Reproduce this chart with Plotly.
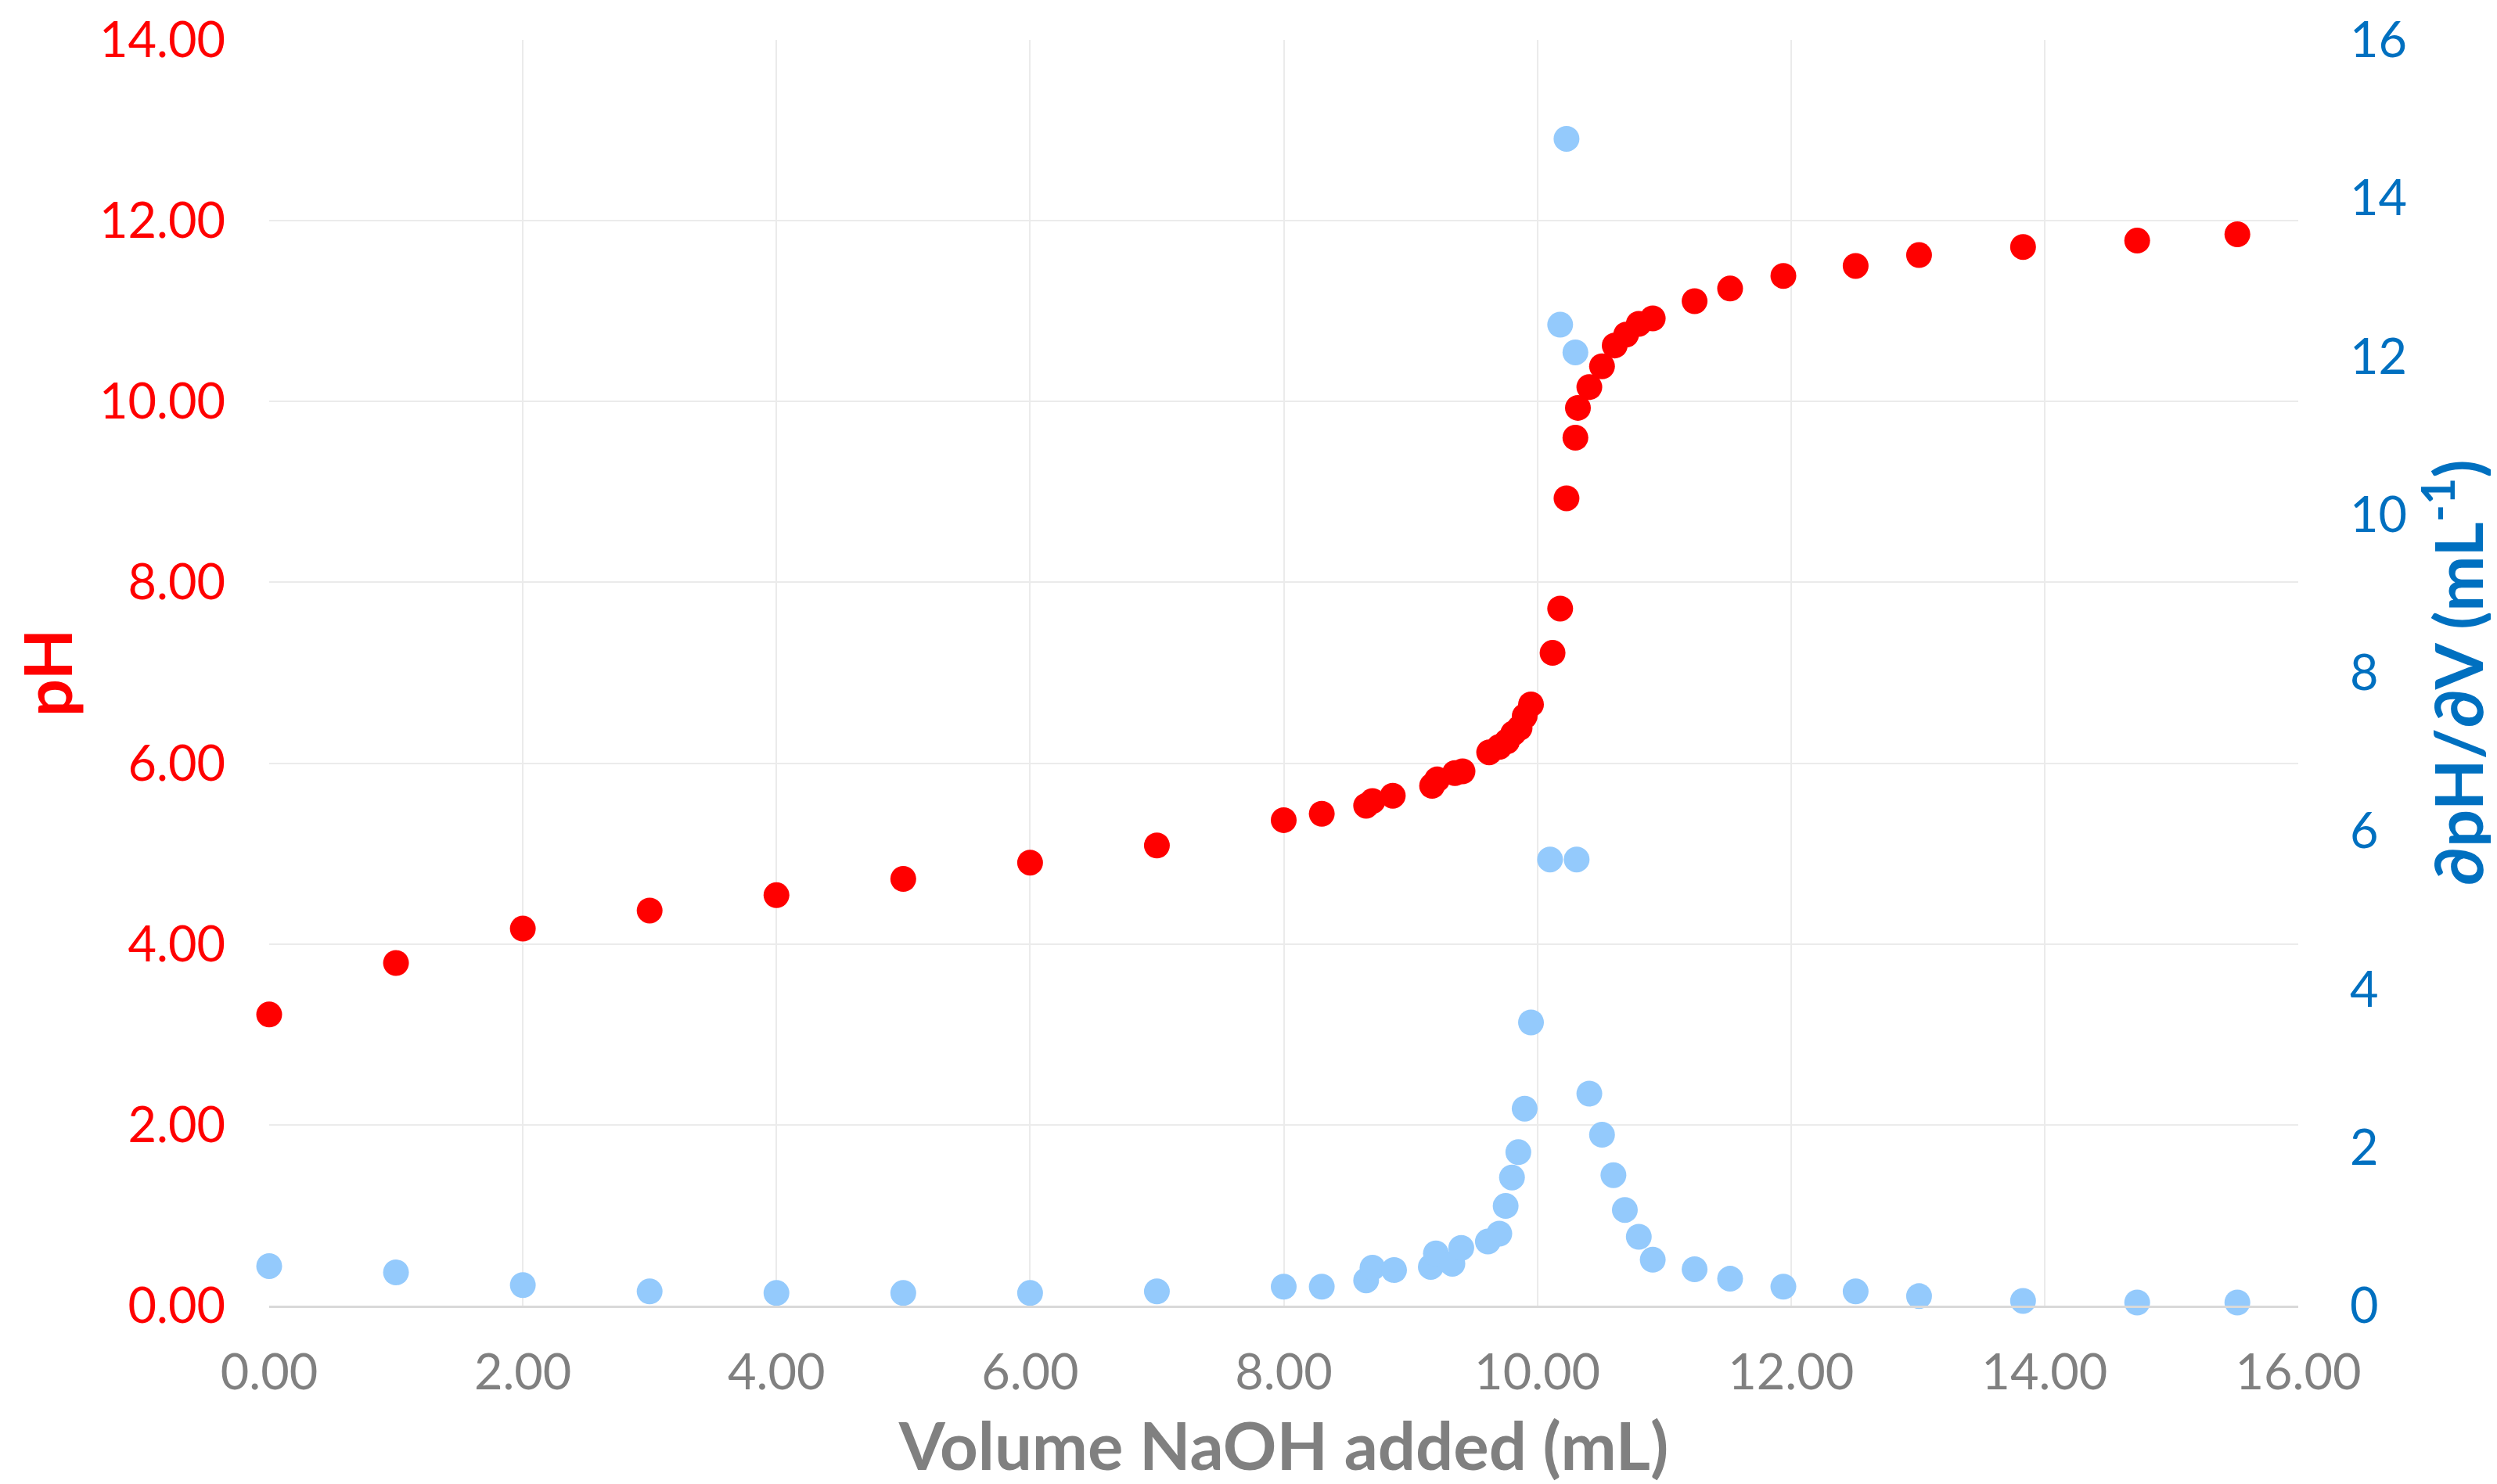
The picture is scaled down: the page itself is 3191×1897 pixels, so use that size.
import plotly.graph_objects as go

# Titration data: volume NaOH (mL) vs pH
vol_ph = [0.00, 1.00, 2.00, 3.00, 4.00, 5.00, 6.00, 7.00, 8.00, 8.30, 8.65, 8.70, 8.86,
          9.17, 9.21, 9.35, 9.41, 9.62, 9.70, 9.76, 9.81, 9.86, 9.90, 9.95,
          10.12, 10.18, 10.23, 10.30, 10.32, 10.41, 10.51, 10.61, 10.70, 10.80, 10.91,
          11.24, 11.52, 11.94, 12.51, 13.01, 13.83, 14.73, 15.52]
ph = [3.22, 3.79, 4.17, 4.37, 4.54, 4.72, 4.90, 5.09, 5.37, 5.44, 5.53, 5.58, 5.64,
      5.75, 5.82, 5.89, 5.91, 6.12, 6.18, 6.24, 6.33, 6.39, 6.52, 6.65,
      7.22, 7.71, 8.93, 9.60, 9.93, 10.16, 10.39, 10.62, 10.74, 10.86, 10.92,
      11.11, 11.25, 11.39, 11.50, 11.62, 11.71, 11.78, 11.85]

# First derivative dpH/dV (mL^-1)
vol_d = [0.00, 1.00, 2.00, 3.00, 4.00, 5.00, 6.00, 7.00, 8.00, 8.30, 8.65, 8.70, 8.87,
         9.16, 9.20, 9.33, 9.40, 9.61, 9.70, 9.75, 9.80, 9.85, 9.90, 9.95,
         10.10, 10.18, 10.23, 10.30, 10.31, 10.41, 10.51, 10.60, 10.69, 10.80, 10.91,
         11.24, 11.52, 11.94, 12.51, 13.01, 13.83, 14.73, 15.52]
dph = [0.50, 0.42, 0.26, 0.18, 0.16, 0.16, 0.16, 0.18, 0.24, 0.24, 0.32, 0.48, 0.45,
       0.49, 0.66, 0.53, 0.73, 0.81, 0.91, 1.26, 1.62, 1.94, 2.49, 3.58,
       5.64, 12.40, 14.75, 12.05, 5.64, 2.68, 2.16, 1.65, 1.21, 0.87, 0.58,
       0.46, 0.34, 0.24, 0.18, 0.12, 0.06, 0.04, 0.04]

x_ticks = [0, 2, 4, 6, 8, 10, 12, 14, 16]
ph_ticks = [0, 2, 4, 6, 8, 10, 12, 14]
d_ticks = [0, 2, 4, 6, 8, 10, 12, 14, 16]

FONT = "Lato, 'Open Sans', sans-serif"
RED = "#FF0000"
BLUE_PT = "#94CAFC"
BLUE_AX = "#0070C0"
GRAY = "#808080"
GRID = "#EBEBEB"

fig = go.Figure()
fig.add_trace(go.Scatter(x=vol_ph, y=ph, mode="markers", name="pH",
                         marker=dict(color=RED, size=33, line=dict(width=0)),
                         cliponaxis=False, yaxis="y"))
fig.add_trace(go.Scatter(x=vol_d, y=dph, mode="markers", name="dpH/dV",
                         marker=dict(color=BLUE_PT, size=33, line=dict(width=0)),
                         cliponaxis=False, yaxis="y2"))

fig.update_layout(
    width=3183, height=1889,
    paper_bgcolor="white", plot_bgcolor="white",
    showlegend=False,
    margin=dict(l=336, r=254, t=43, b=228, autoexpand=False),
    font=dict(family=FONT),
    xaxis=dict(
        range=[0, 16], tickvals=x_ticks,
        ticktext=[f"{v:.2f}" for v in x_ticks],
        tickfont=dict(size=63, color=GRAY, family=FONT),
        ticklabelstandoff=28,
        showgrid=True, gridcolor=GRID, gridwidth=2,
        zeroline=False, showline=True, linecolor="#D9D9D9", linewidth=3,
        ticks="", ticklen=0, automargin=False,
        title=dict(text="<b>Volume NaOH added (mL)</b>", standoff=46,
                   font=dict(size=85, color=GRAY, family=FONT)),
    ),
    yaxis=dict(
        range=[0, 14], tickvals=ph_ticks,
        ticktext=[f"{v:.2f}" for v in ph_ticks],
        tickfont=dict(size=63, color=RED, family=FONT),
        ticklabelstandoff=55,
        showgrid=True, gridcolor=GRID, gridwidth=2,
        zeroline=False, showline=False, ticks="", automargin=False,
        title=dict(text="<b>pH</b>", standoff=32,
                   font=dict(size=85, color=RED, family=FONT)),
    ),
    yaxis2=dict(
        range=[0, 16], tickvals=d_ticks,
        ticktext=[str(v) for v in d_ticks],
        tickfont=dict(size=63, color=BLUE_AX, family=FONT),
        ticklabelstandoff=65,
        overlaying="y", side="right",
        showgrid=False, zeroline=False, showline=False, ticks="", automargin=False,
        title=dict(text="<b>∂pH/∂V (mL<sup>-1</sup>)</b>", standoff=38,
                   font=dict(size=85, color=BLUE_AX, family=FONT)),
    ),
)

fig.write_html("out.html")
